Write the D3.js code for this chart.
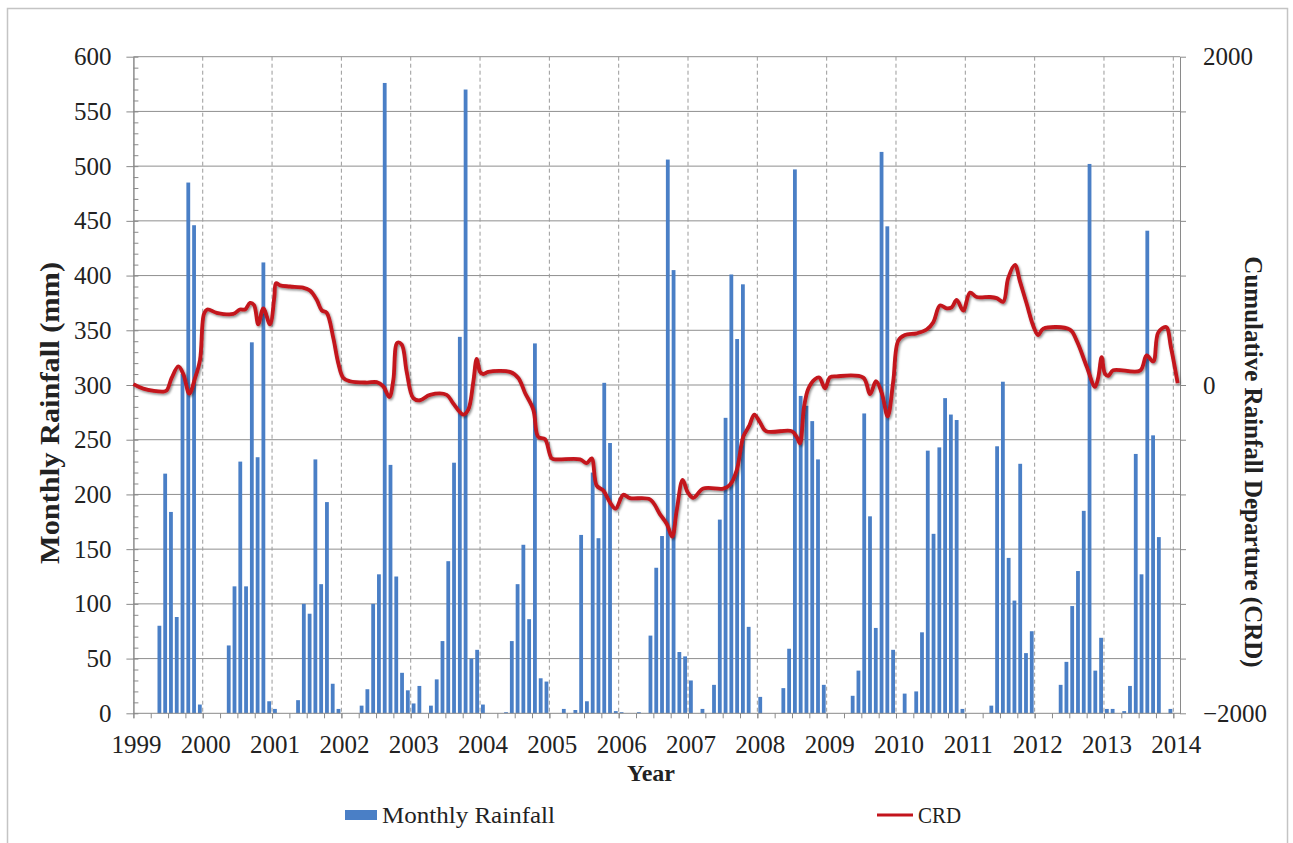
<!DOCTYPE html>
<html>
<head>
<meta charset="utf-8">
<script src="https://cdn.jsdelivr.net/npm/d3@7"></script>
<style>
  body { margin: 0; background: #fff; }
  svg { display: block; }
  text { font-family: "Liberation Serif", "Times New Roman", serif; fill: #222; }
</style>
</head>
<body>
<svg id="chart" width="1293" height="843"></svg>
<script>
// Monthly rainfall (mm), Jan..Dec for each year
const years = [1999, 2000, 2001, 2002, 2003, 2004, 2005, 2006, 2007, 2008, 2009, 2010, 2011, 2012, 2013];
const monthlyRainfall = [
  [0, 0, 0, 0, 80, 219, 184, 88, 310, 485, 446, 8],      // 1999
  [0, 0, 0, 0, 62, 116, 230, 116, 339, 234, 412, 11],    // 2000
  [4, 0, 0, 0, 12, 100, 91, 232, 118, 193, 27, 4],       // 2001
  [0, 0, 0, 7, 22, 100, 127, 576, 227, 125, 37, 21],     // 2002
  [9, 25, 0, 7, 31, 66, 139, 229, 344, 570, 50, 58],     // 2003
  [8, 0, 0, 0, 1, 66, 118, 154, 86, 338, 32, 29],        // 2004
  [0, 0, 4, 0, 3, 163, 11, 220, 160, 302, 247, 2],       // 2005
  [1, 0, 0, 1, 0, 71, 133, 162, 506, 405, 56, 52],       // 2006
  [30, 0, 4, 0, 26, 177, 270, 401, 342, 392, 79, 0],     // 2007
  [15, 0, 0, 0, 23, 59, 497, 290, 281, 267, 232, 26],    // 2008
  [0, 0, 0, 0, 16, 39, 274, 180, 78, 513, 445, 58],      // 2009
  [0, 18, 0, 20, 74, 240, 164, 243, 288, 273, 268, 4],   // 2010
  [0, 0, 0, 0, 7, 244, 303, 142, 103, 228, 55, 75],      // 2011
  [0, 0, 0, 0, 26, 47, 98, 130, 185, 502, 39, 69],       // 2012
  [4, 4, 0, 2, 25, 237, 127, 441, 254, 161, 0, 4]        // 2013
];

// Cumulative rainfall departure: time (decimal year) and value
const crdTime = [
  1999.0, 1999.143, 1999.431, 1999.48, 1999.552, 1999.648, 1999.72, 1999.806, 1999.888, 1999.961,
  2000.018, 2000.066, 2000.201, 2000.441, 2000.537, 2000.611, 2000.682, 2000.74, 2000.801, 2000.874,
  2000.97, 2001.032, 2001.057, 2001.115, 2001.259, 2001.446, 2001.547, 2001.644, 2001.716, 2001.788,
  2001.883, 2001.955, 2002.028, 2002.124, 2002.365, 2002.509, 2002.604, 2002.691, 2002.749, 2002.806,
  2002.87, 2002.942, 2003.037, 2003.134, 2003.278, 2003.519, 2003.614, 2003.758, 2003.83, 2003.903,
  2003.952, 2004.0, 2004.047, 2004.119, 2004.432, 2004.552, 2004.648, 2004.768, 2004.84, 2004.937,
  2005.033, 2005.106, 2005.442, 2005.538, 2005.61, 2005.683, 2005.778, 2005.874, 2005.956, 2006.066,
  2006.163, 2006.451, 2006.596, 2006.692, 2006.773, 2006.836, 2006.923, 2006.995, 2007.076, 2007.22,
  2007.509, 2007.605, 2007.702, 2007.797, 2007.884, 2007.956, 2008.038, 2008.124, 2008.495, 2008.567,
  2008.615, 2008.673, 2008.735, 2008.831, 2008.894, 2008.976, 2009.048, 2009.144, 2009.528, 2009.625,
  2009.711, 2009.793, 2009.88, 2009.96, 2010.033, 2010.129, 2010.298, 2010.442, 2010.538, 2010.634,
  2010.731, 2010.803, 2010.875, 2010.97, 2011.067, 2011.163, 2011.355, 2011.452, 2011.547, 2011.619,
  2011.716, 2011.788, 2011.885, 2011.98, 2012.052, 2012.124, 2012.509, 2012.606, 2012.75, 2012.87,
  2012.917, 2012.966, 2013.014, 2013.062, 2013.134, 2013.519, 2013.615, 2013.711, 2013.783, 2013.897,
  2013.966, 2014.063
];
const crdValue = [
  5, -22, -40, -33, 43, 113, 67, -53, 40, 153,
  433, 460, 440, 433, 460, 460, 500, 487, 370, 467,
  370, 533, 620, 607, 600, 593, 575, 519, 455, 440,
  287, 133, 43, 23, 15, 17, -8, -73, 30, 257,
  247, 80, -80, -93, -60, -60, -113, -180, -150, 20,
  159, 80, 67, 80, 80, 43, -47, -150, -317, -330,
  -447, -453, -453, -476, -447, -613, -643, -715, -753, -669,
  -689, -697, -788, -845, -923, -766, -578, -653, -687, -631,
  -631, -608, -520, -315, -248, -180, -227, -281, -281, -315,
  -356, -135, -23, 35, 45, -20, 47, 53, 45, -56,
  23, -47, -191, 23, 270, 304, 315, 338, 383, 484,
  467, 473, 518, 453, 563, 536, 536, 529, 507, 653,
  732, 631, 495, 360, 304, 343, 338, 270, 113, -11,
  45, 169, 69, 56, 90, 87, 180, 144, 320, 353,
  230, 11
];

// Axis tick values and labels
const leftTicks = [0, 50, 100, 150, 200, 250, 300, 350, 400, 450, 500, 550, 600];
const rightLabels = [-2000, 0, 2000];
const yearTicks = [1999, 2000, 2001, 2002, 2003, 2004, 2005, 2006, 2007, 2008, 2009, 2010, 2011, 2012, 2013, 2014];

const svg = d3.select("#chart");
const plot = { left: 133.4, right: 1180, top: 56.7, bottom: 713.3 };

const x = d3.scaleLinear().domain([1999, 2014]).range([133.4, 1173.3]);
const yL = d3.scaleLinear().domain([0, 600]).range([plot.bottom, plot.top]);
const yR = d3.scaleLinear().domain([-2000, 2000]).range([plot.bottom, plot.top]);

// outer frame
svg.append("rect")
  .attr("x", 7.5).attr("y", 8.5).attr("width", 1280).attr("height", 870)
  .attr("fill", "#fff").attr("stroke", "#c4c4c4").attr("stroke-width", 1.5);

const defs = svg.append("defs");
const shadow = defs.append("filter").attr("id", "lineShadow")
  .attr("x", "-5%").attr("y", "-5%").attr("width", "110%").attr("height", "110%");
shadow.append("feDropShadow")
  .attr("dx", 1.2).attr("dy", 1.6).attr("stdDeviation", 1.2)
  .attr("flood-color", "#000").attr("flood-opacity", 0.45);

// horizontal gridlines
svg.append("g").selectAll("line")
  .data(leftTicks.filter(d => d > 0))
  .join("line")
  .attr("x1", plot.left).attr("x2", plot.right)
  .attr("y1", d => yL(d)).attr("y2", d => yL(d))
  .attr("stroke", "#8f8f8f").attr("stroke-width", 1);

// vertical dashed year lines
svg.append("g").selectAll("line")
  .data(yearTicks.slice(1))
  .join("line")
  .attr("x1", d => x(d)).attr("x2", d => x(d))
  .attr("y1", plot.top).attr("y2", plot.bottom)
  .attr("stroke", "#9a9a9a").attr("stroke-width", 1)
  .attr("stroke-dasharray", "4,3");

// monthly rainfall bars
const barData = [];
years.forEach((yr, i) => {
  monthlyRainfall[i].forEach((v, m) => {
    if (v > 0) barData.push({ t: yr + (m + 0.5) / 12, v });
  });
});
const bw = 3.8;
svg.append("g").selectAll("rect")
  .data(barData)
  .join("rect")
  .attr("x", d => x(d.t) - bw / 2)
  .attr("width", bw)
  .attr("y", d => yL(d.v))
  .attr("height", d => yL(0) - yL(d.v))
  .attr("fill", "#4a7fc6");

// axes
const axisColor = "#8a8a8a";
const styleAxis = g => {
  g.select(".domain").attr("stroke", axisColor);
  g.selectAll(".tick line").attr("stroke", axisColor);
  g.selectAll("text").style("font-family", "'Liberation Serif', serif")
    .style("font-size", "25px").attr("fill", "#222");
};

// left axis: major ticks outside, minor ticks inside
svg.append("g").attr("transform", `translate(${plot.left},0)`)
  .call(d3.axisLeft(yL).tickValues(d3.range(0, 601, 10)).tickSize(-5).tickSizeOuter(0).tickFormat(""))
  .call(styleAxis);
svg.append("g").attr("transform", `translate(${plot.left},0)`)
  .call(d3.axisLeft(yL).tickValues(leftTicks).tickSize(7).tickSizeOuter(0).tickPadding(15))
  .call(styleAxis);

// right axis: ticks at every gridline level, labels at -2000, 0, 2000
const rightTickVals = leftTicks.map(v => yR.invert(yL(v)));
svg.append("g").attr("transform", `translate(${plot.right},0)`)
  .call(d3.axisRight(yR).tickValues(rightTickVals).tickSize(6).tickSizeOuter(0).tickPadding(17)
    .tickFormat(d => rightLabels.includes(Math.round(d)) ? d3.format("d")(Math.round(d)) : ""))
  .call(styleAxis);

// bottom axis line, quarter ticks and year labels
svg.append("line")
  .attr("x1", plot.left).attr("x2", plot.right)
  .attr("y1", plot.bottom).attr("y2", plot.bottom)
  .attr("stroke", axisColor);
svg.append("g").attr("transform", `translate(0,${plot.bottom})`)
  .call(d3.axisBottom(x).tickValues(d3.range(1999, 2014.01, 0.25)).tickSize(5).tickSizeOuter(0).tickFormat(""))
  .call(styleAxis)
  .call(g => g.select(".domain").remove());
svg.append("g").attr("transform", `translate(0,${plot.bottom})`)
  .call(d3.axisBottom(x).tickValues(yearTicks).tickSize(5).tickSizeOuter(0).tickPadding(17).tickFormat(d3.format("d")))
  .call(styleAxis)
  .call(g => g.select(".domain").remove())
  .call(g => g.selectAll("text").attr("dx", 2.5));

// cumulative rainfall departure line
const crdPoints = crdTime.map((t, i) => [t, crdValue[i]]);
svg.append("path")
  .datum(crdPoints)
  .attr("fill", "none")
  .attr("stroke", "#c3141c")
  .attr("stroke-width", 3.8)
  .attr("stroke-linejoin", "round")
  .attr("filter", "url(#lineShadow)")
  .attr("d", d3.line().x(d => x(d[0])).y(d => yR(d[1])).curve(d3.curveCatmullRom.alpha(0.5)));

// axis titles
svg.append("text")
  .attr("transform", "translate(59,413) rotate(-90)")
  .attr("text-anchor", "middle")
  .style("font-size", "27px").style("font-weight", "bold").attr("fill", "#111")
  .attr("textLength", 302).attr("lengthAdjust", "spacingAndGlyphs")
  .text("Monthly Rainfall (mm)");
svg.append("text")
  .attr("transform", "translate(1245,462) rotate(90)")
  .attr("text-anchor", "middle")
  .style("font-size", "25px").style("font-weight", "bold").attr("fill", "#111")
  .text("Cumulative Rainfall Departure (CRD)");
svg.append("text")
  .attr("x", 651).attr("y", 781)
  .attr("text-anchor", "middle")
  .style("font-size", "24px").style("font-weight", "bold").attr("fill", "#111")
  .text("Year");

// legend
const legend = svg.append("g");
legend.append("rect")
  .attr("x", 345).attr("y", 810).attr("width", 32).attr("height", 10)
  .attr("fill", "#4a7fc6");
legend.append("text")
  .attr("x", 382).attr("y", 823)
  .style("font-size", "24px")
  .attr("textLength", 173).attr("lengthAdjust", "spacingAndGlyphs")
  .text("Monthly Rainfall");
legend.append("line")
  .attr("x1", 877).attr("x2", 913).attr("y1", 815).attr("y2", 815)
  .attr("stroke", "#c3141c").attr("stroke-width", 3);
legend.append("text")
  .attr("x", 918).attr("y", 823)
  .style("font-size", "24px")
  .attr("textLength", 43).attr("lengthAdjust", "spacingAndGlyphs")
  .text("CRD");
</script>
</body>
</html>
